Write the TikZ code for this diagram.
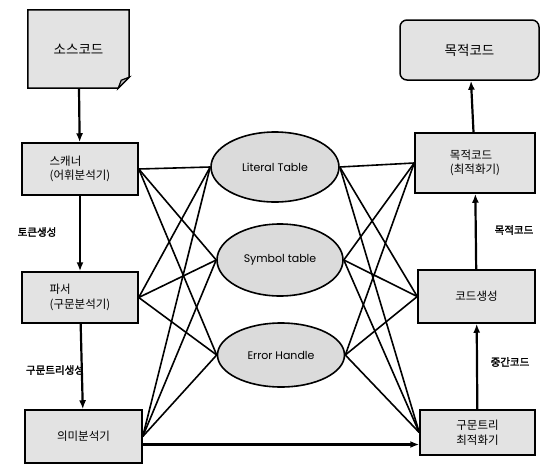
\documentclass[tikz,border=0pt]{standalone}
\usepackage{fontspec}
\setmainfont{Noto Sans CJK KR}[AutoFakeBold=2]
\newfontfamily\latinfont{Poppins}
\usetikzlibrary{shapes.geometric,backgrounds,arrows.meta}

\begin{document}
\begin{tikzpicture}[
x=1pt,y=-1pt,
box/.style={
draw,
line width=1.5pt,
fill=gray!22,
align=left,
font=\fontsize{11.5}{14.5}\selectfont,
inner sep=2pt
},
oval/.style={
ellipse,
draw,
line width=1.6pt,
fill=gray!28,
font=\latinfont\fontsize{11}{13}\selectfont,
inner sep=0pt
},
lbl/.style={
font=\bfseries\fontsize{10.5}{12}\selectfont
},
link/.style={
line width=1.6pt
},
flow/.style={
-{Latex[length=9pt,width=7pt]},
line width=2.2pt
}
]

\useasboundingbox (0,0) rectangle (541,464);

% left column
\node[font=\fontsize{13.5}{16}\selectfont, minimum width=101pt, minimum height=78pt] (src) at (78.5,49)
{소스코드};

\node[box, minimum width=116pt, minimum height=52pt] (scan) at (80,169)
{스캐너\\(어휘분석기)};

\node[box, minimum width=116pt, minimum height=51pt] (parse) at (80,297.5)
{파서\\(구문분석기)};

\node[box, minimum width=117pt, minimum height=53pt] (sem) at (83.5,436.5)
{의미분석기};

% tables
\node[oval, minimum width=128pt, minimum height=70pt] (lit) at (275,167)
{Literal Table};

\node[oval, minimum width=126pt, minimum height=72pt] (sym) at (280,260)
{Symbol table};

\node[oval, minimum width=127pt, minimum height=64pt] (err) at (281,355)
{Error Handle};

% right column
\node[box, rounded corners=7pt, align=center, font=\fontsize{13.5}{16}\selectfont, minimum width=139pt, minimum height=60pt] (tgt) at (469.5,50)
{목적코드};

\node[box, minimum width=120pt, minimum height=60pt] (opt) at (475,163)
{목적코드\\(최적화기)};

\node[box, align=center, minimum width=117pt, minimum height=53pt] (gen) at (476.5,296.5)
{코드생성};

\node[box, align=center, minimum width=115pt, minimum height=45pt] (tree) at (477.5,432.5)
{구문트리\\최적화기};

% labels
\node[lbl] (t1) at (37,232) {토큰생성};
\node[lbl] (t2) at (55,370) {구문트리생성};
\node[lbl] (t3) at (514,230) {목적코드};
\node[lbl] (t4) at (510,362) {중간코드};

% source document outline
\begin{scope}[on background layer]
\draw[line width=1.5pt, fill=gray!22] (src.north west) -- (src.north east)
-- ([yshift=11pt]src.south east) -- ([xshift=-11pt]src.south east)
-- (src.south west) -- cycle;
\draw[line width=1.2pt, fill=gray!55] ([xshift=-11pt]src.south east)
-- ([xshift=-8pt,yshift=8pt]src.south east) -- ([yshift=11pt]src.south east) -- cycle;
\end{scope}

% flow
\draw[flow] (src) -- (scan);
\draw[flow] (scan) -- (parse);
\draw[flow] (parse) -- (sem);
\draw[flow] ([yshift=-8pt]sem.east) -- ([yshift=-8pt]sem.east -| tree.west);
\draw[flow] (tree) -- (gen);
\draw[flow] (gen) -- (opt);
\draw[flow] (opt) -- (tgt);

% links to the tables
\foreach \a in {scan,parse,sem}
  \foreach \b in {lit,sym,err}
    \draw[link] (\a.east) -- (\b.west);

\foreach \a in {opt,gen,tree}
  \foreach \b in {lit,sym,err}
    \draw[link] (\b.east) -- (\a.west);

\end{tikzpicture}
\end{document}
